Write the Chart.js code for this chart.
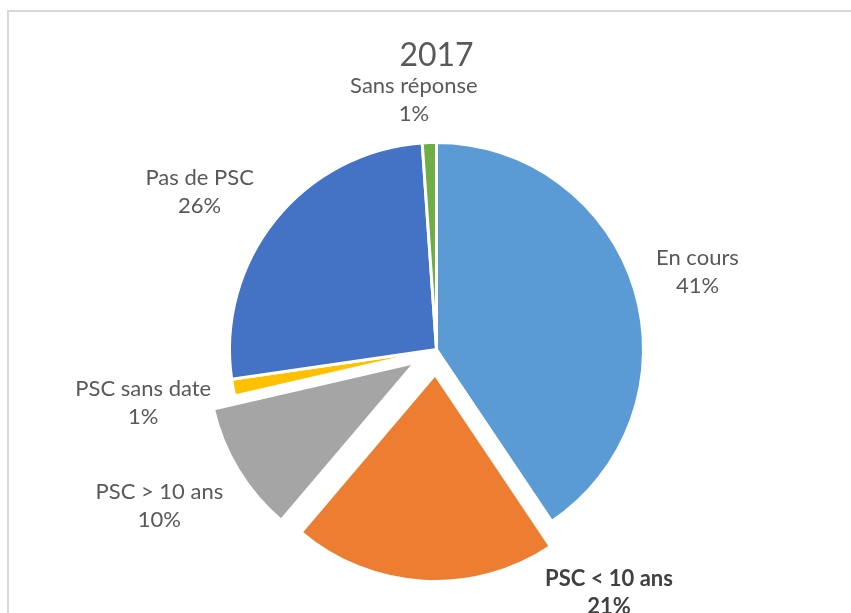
<!DOCTYPE html>
<html>
<head>
<meta charset="utf-8">
<script src="https://cdn.jsdelivr.net/npm/chart.js@4"></script>
<style>
  html, body { margin: 0; padding: 0; background: #ffffff; }
  #wrap { position: relative; width: 851px; height: 613px; overflow: hidden; background: #ffffff; }
  #frame { position: absolute; left: 7px; top: 10px; width: 900px; height: 700px; border: 2px solid #d9d9d9; box-sizing: border-box; }
  #c { position: absolute; left: 0; top: 0; }
</style>
</head>
<body>
<div id="wrap">
  <div id="frame"></div>
  <canvas id="c" width="851" height="613"></canvas>
</div>
<script>
// ---- data ----
const chartTitle = '2017';
const categories = ['En cours', 'PSC < 10 ans', 'PSC > 10 ans', 'PSC sans date', 'Pas de PSC', 'Sans réponse'];
const shares = [40.6, 20.6, 10.2, 1.3, 26.2, 1.1];
const sliceColors = ['#5B9BD5', '#ED7D31', '#A5A5A5', '#FFC000', '#4472C4', '#70AD47'];
const explode = [0, 25, 25, 0, 0, 0];
const boldLabel = [false, true, false, false, false, false];
// label placement: angular shift from slice mid-angle (deg) and distance as a fraction of the radius
const labelShift = [0.4, -38.6, 1.9, 0.3, -5.2, -3.2];
const labelDist = [1.315, 1.44, 1.537, 1.44, 1.375, 1.21];

const FONT = 'Lato, "Open Sans", "DejaVu Sans", sans-serif';

// Explode slices by a plain translation (Excel style) instead of Chart.js' scaled offset
(function () {
  const Arc = Chart.ArcElement || (Chart.elements && Chart.elements.ArcElement);
  if (!Arc) return;
  const origDraw = Arc.prototype.draw;
  Arc.prototype.draw = function (ctx) {
    const saved = this.options;
    const off = (saved && saved.offset) || 0;
    if (!off) return origDraw.call(this, ctx);
    const half = (this.startAngle + this.endAngle) / 2;
    ctx.save();
    ctx.translate(Math.cos(half) * off, Math.sin(half) * off);
    this.options = Object.assign({}, saved, { offset: 0 });
    try { origDraw.call(this, ctx); } finally { this.options = saved; }
    ctx.restore();
  };
})();

const labelPlugin = {
  id: 'sliceLabels',
  afterDatasetsDraw(chart) {
    const ctx = chart.ctx;
    const meta = chart.getDatasetMeta(0);
    const total = shares.reduce((a, b) => a + b, 0);
    ctx.save();
    ctx.textAlign = 'center';
    ctx.textBaseline = 'middle';
    meta.data.forEach((arc, i) => {
      const p = arc.getProps(['x', 'y', 'startAngle', 'endAngle', 'outerRadius'], true);
      const mid = (p.startAngle + p.endAngle) / 2 + labelShift[i] * Math.PI / 180;
      const d = p.outerRadius * labelDist[i];
      const x = p.x + Math.cos(mid) * d;
      const y = p.y + Math.sin(mid) * d;
      const pct = Math.round(shares[i] / total * 100) + '%';
      ctx.font = (boldLabel[i] ? 'bold ' : '') + '22px ' + FONT;
      ctx.fillStyle = boldLabel[i] ? '#404040' : '#595959';
      ctx.fillText(categories[i], x, y - 14);
      ctx.fillText(pct, x, y + 14);
    });
    ctx.restore();
  }
};

new Chart(document.getElementById('c'), {
  type: 'pie',
  data: {
    labels: categories,
    datasets: [{
      data: shares,
      backgroundColor: sliceColors,
      borderColor: '#ffffff',
      borderWidth: 3,
      offset: explode,
      clip: false
    }]
  },
  options: {
    responsive: false,
    animation: false,
    radius: 207,
    layout: { padding: { left: 22, right: 0, top: 0, bottom: 0 } },
    plugins: {
      legend: { display: false },
      tooltip: { enabled: false },
      title: {
        display: true,
        text: chartTitle,
        color: '#595959',
        font: { family: FONT, size: 32, weight: 'normal', lineHeight: 1.2 },
        padding: { top: 36, bottom: 11.6 }
      }
    }
  },
  plugins: [labelPlugin]
});
</script>
</body>
</html>
